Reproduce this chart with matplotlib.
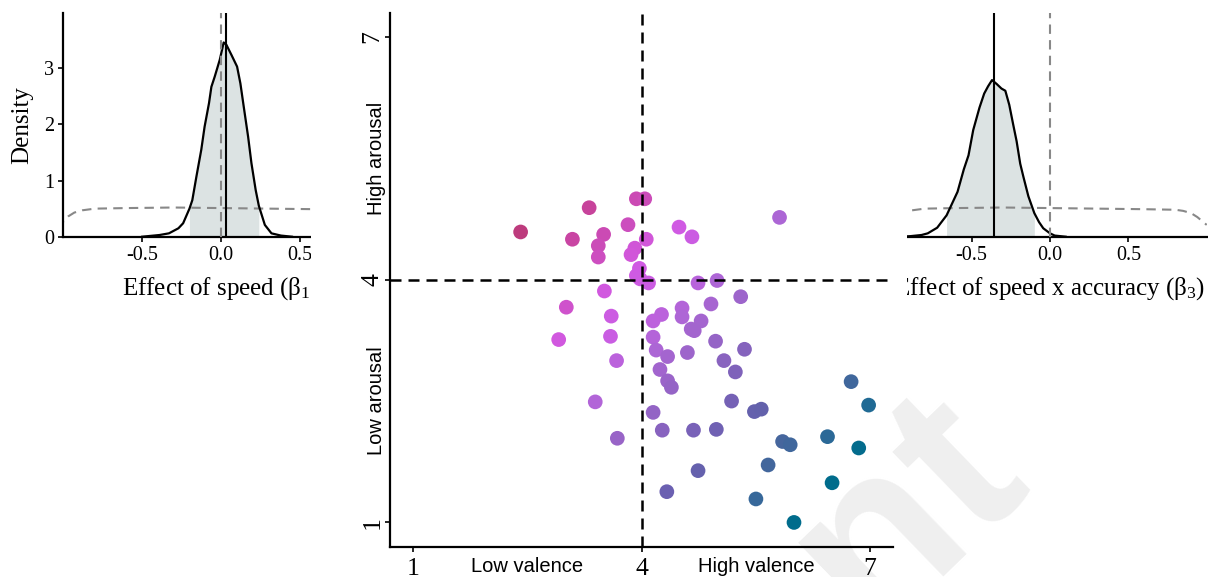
import matplotlib
matplotlib.use("Agg")
import matplotlib.pyplot as plt
from matplotlib.colors import LinearSegmentedColormap, Normalize
from matplotlib.patches import Rectangle
import numpy as np

# ---------------- data ----------------
valence = [2.41, 3.31, 3.93, 4.04, 5.81, 3.09, 3.50, 3.82, 4.49, 4.66,
           4.06, 3.43, 3.43, 3.91, 3.86, 3.97, 3.93, 3.98, 4.09, 3.51,
           4.74, 4.99, 5.30, 3.01, 3.60, 3.59, 2.91, 3.67, 3.39, 3.68,
           4.26, 4.15, 4.53, 4.53, 4.91, 4.78, 4.65, 4.69, 4.15, 4.97,
           4.19, 4.34, 4.60, 5.35, 5.08, 5.23, 4.24, 4.34, 4.39, 5.18,
           4.15, 4.27, 4.68, 4.98, 5.48, 5.57, 6.75, 6.98, 5.85, 5.95,
           6.44, 6.85, 5.66, 4.74, 6.50, 4.33, 5.50, 6.00]
arousal = [4.59, 4.89, 5.00, 5.00, 4.77, 4.50, 4.56, 4.68, 4.65, 4.53,
           4.50, 4.42, 4.28, 4.39, 4.31, 4.14, 4.05, 4.01, 3.96, 3.86,
           3.96, 3.99, 3.79, 3.66, 3.55, 3.30, 3.26, 3.00, 2.49, 2.04,
           3.57, 3.49, 3.65, 3.54, 3.70, 3.49, 3.39, 3.37, 3.29, 3.24,
           3.13, 3.05, 3.10, 3.14, 3.00, 2.86, 2.89, 2.75, 2.67, 2.50,
           2.36, 2.14, 2.14, 2.15, 2.37, 2.40, 2.74, 2.45, 2.00, 1.96,
           2.06, 1.92, 1.71, 1.64, 1.49, 1.38, 1.29, 1.00]

speed_x = [-0.50, -0.39, -0.33, -0.27, -0.24, -0.20, -0.182, -0.156, -0.125,
           -0.104, -0.076, -0.061, -0.040, -0.008, 0.017, 0.034, 0.066,
           0.102, 0.123, 0.144, 0.172, 0.193, 0.220, 0.24, 0.278, 0.32,
           0.38, 0.45]
speed_density = [0.00, 0.03, 0.06, 0.15, 0.24, 0.50, 0.65, 1.07, 1.55,
                 1.96, 2.38, 2.67, 2.85, 3.15, 3.46, 3.42, 3.24,
                 3.03, 2.73, 2.32, 1.78, 1.31, 0.83, 0.55, 0.21, 0.06,
                 0.02, 0.00]
speed_interval = (-0.20, 0.24)
speed_estimate = 0.03

inter_x = [-0.95, -0.89, -0.82, -0.78, -0.72, -0.66, -0.62, -0.59, -0.55,
           -0.52, -0.49, -0.45, -0.42, -0.395, -0.37, -0.34, -0.31, -0.285,
           -0.26, -0.235, -0.213, -0.19, -0.17, -0.138, -0.10, -0.07,
           -0.043, 0.0, 0.03, 0.10]
inter_density = [0.00, 0.01, 0.03, 0.06, 0.16, 0.38, 0.62, 0.80, 1.20,
                 1.45, 1.90, 2.30, 2.55, 2.68, 2.79, 2.72, 2.64, 2.60,
                 2.35, 2.00, 1.70, 1.30, 1.07, 0.72, 0.42, 0.26,
                 0.15, 0.06, 0.02, 0.00]
inter_interval = (-0.66, -0.10)
inter_estimate = -0.36

prior_x = [-1.05, -1.0, -0.97, -0.93, -0.88, -0.80, -0.60, -0.30, 0.0, 0.30,
           0.60, 0.80, 0.85, 0.90, 0.94, 0.97, 1.0]
prior_density = [0.20, 0.27, 0.36, 0.43, 0.47, 0.50, 0.51, 0.52, 0.51, 0.50,
                 0.49, 0.48, 0.46, 0.42, 0.35, 0.28, 0.21]

density_xticks = [-0.5, 0.0, 0.5]
density_xticklabels = ["-0.5", "0.0", "0.5"]
density_yticks = [0, 1, 2, 3]
scatter_ticks = [1, 4, 7]

# ---------------- style ----------------
plt.rcParams["font.family"] = ["Liberation Serif", "DejaVu Serif"]
plt.rcParams["mathtext.fontset"] = "custom"
plt.rcParams["mathtext.rm"] = "Liberation Serif"
plt.rcParams["mathtext.it"] = "Liberation Serif:italic"
plt.rcParams["axes.unicode_minus"] = False

W, H = 1208, 577
fig = plt.figure(figsize=(W / 100, H / 100), dpi=100)
fig.patch.set_facecolor("white")


def px_axes(l, t, r, b, **kw):
    return fig.add_axes([l / W, 1 - b / H, (r - l) / W, (b - t) / H], **kw)


def density_panel(ax, x, d, interval, est, label):
    x = np.asarray(x)
    d = np.asarray(d)
    m = (x >= interval[0] - 1e-9) & (x <= interval[1] + 1e-9)
    ax.fill_between(x[m], 0, d[m], color="#DCE3E3", lw=0, zorder=1)
    ax.plot(x, d, color="black", lw=1.6, zorder=3, solid_joinstyle="round")
    ax.axvline(est, color="black", lw=1.5, zorder=4)
    ax.axvline(0.0, color="#888888", lw=1.5, ls=(0, (4.5, 3)), zorder=4)
    ax.plot(prior_x, prior_density, color="#888888", lw=1.5,
            ls=(0, (4.5, 3)), zorder=2, clip_on=True)
    ax.set_xlim(-1.0, 1.0)
    ax.set_ylim(0, 3.98)
    ax.set_xticks(density_xticks)
    ax.set_xticklabels(density_xticklabels)
    ax.set_yticks(density_yticks)
    for s in ["top", "right"]:
        ax.spines[s].set_visible(False)
    for s in ["left", "bottom"]:
        ax.spines[s].set_linewidth(1.6)
    ax.tick_params(direction="out", length=3.5, width=1.2, labelsize=14.5,
                   colors="black", pad=3)
    ax.set_facecolor("white")
    ax.text(0.5, -0.234, label, transform=ax.transAxes, ha="center",
            va="center", fontsize=18)


# left density panel
axL = px_axes(63.3, 13.3, 378.7, 236.7)
density_panel(axL, speed_x, speed_density, speed_interval, speed_estimate,
              "Effect of speed (β$_1$)")
axL.text(-0.131, 0.5, "Density", transform=axL.transAxes, rotation=90,
         ha="center", va="center", fontsize=18)

# right density panel
axR = px_axes(893.3, 13.3, 1206.7, 236.7)
density_panel(axR, inter_x, inter_density, inter_interval, inter_estimate,
              "Effect of speed x accuracy (β$_3$)")

# white cover behind the central scatter panel
fig.add_artist(Rectangle((311 / W, 0), (907 - 311) / W, 1,
                         transform=fig.transFigure, facecolor="white",
                         edgecolor="none", zorder=1))

# faint watermark
fig.text(869.5 / W, 1 - 633 / H, "nt", fontsize=170, color="#EFEFEF",
         rotation=44, rotation_mode="anchor", ha="left", va="baseline",
         fontweight="bold", family="Liberation Sans", zorder=2)

# central scatter panel
axS = px_axes(390.4, 12.7, 893.0, 546.7, zorder=3)
axS.set_facecolor("none")

anchors = [(-2.2, "#BD3B7D"), (-1.5, "#C8449F"), (-0.9, "#CC4DBC"),
           (-0.3, "#D259E3"), (0.4, "#C75EE2"), (1.0, "#AE66D6"),
           (1.7, "#9664C6"), (2.4, "#7E62BA"), (3.0, "#6A60B0"),
           (3.6, "#51649F"), (4.2, "#38689A"), (5.0, "#006C8C")]
lo, hi = anchors[0][0], anchors[-1][0]
cmap = LinearSegmentedColormap.from_list(
    "va", [((v - lo) / (hi - lo), c) for v, c in anchors])
cvals = np.asarray(valence) - np.asarray(arousal)
axS.scatter(valence, arousal, c=cvals, cmap=cmap, norm=Normalize(lo, hi),
            s=112, linewidths=0, zorder=2)

axS.axvline(4, color="black", lw=1.8, ls=(0, (4.4, 2.8)), zorder=3)
axS.axhline(4, color="black", lw=1.8, ls=(0, (4.4, 2.8)), zorder=3)

axS.set_xlim(0.7, 7.3)
axS.set_ylim(0.7, 7.3)
axS.set_xticks(scatter_ticks)
axS.set_xticklabels([str(t) for t in scatter_ticks])
axS.set_yticks(scatter_ticks)
axS.set_yticklabels([str(t) for t in scatter_ticks], rotation=90, va="center")
for s in ["top", "right"]:
    axS.spines[s].set_visible(False)
for s in ["left", "bottom"]:
    axS.spines[s].set_linewidth(1.6)
axS.tick_params(direction="out", length=3.5, width=1.2, labelsize=18.5,
                colors="black")
axS.tick_params(axis="x", pad=4.5)
axS.tick_params(axis="y", pad=1.7)

sans = "Liberation Sans"
axS.text(-0.0267, 5.5, "High arousal", transform=axS.get_yaxis_transform(),
         rotation=90, ha="center", va="center", fontsize=14.5, family=sans,
         clip_on=False)
axS.text(-0.0267, 2.5, "Low arousal", transform=axS.get_yaxis_transform(),
         rotation=90, ha="center", va="center", fontsize=14.5, family=sans,
         clip_on=False)
axS.text(2.5, -0.0468, "Low valence", transform=axS.get_xaxis_transform(),
         ha="center", va="baseline", fontsize=14.5, family=sans, clip_on=False)
axS.text(5.5, -0.0468, "High valence", transform=axS.get_xaxis_transform(),
         ha="center", va="baseline", fontsize=14.5, family=sans, clip_on=False)

fig.savefig("out.png", dpi=100, facecolor="white")
